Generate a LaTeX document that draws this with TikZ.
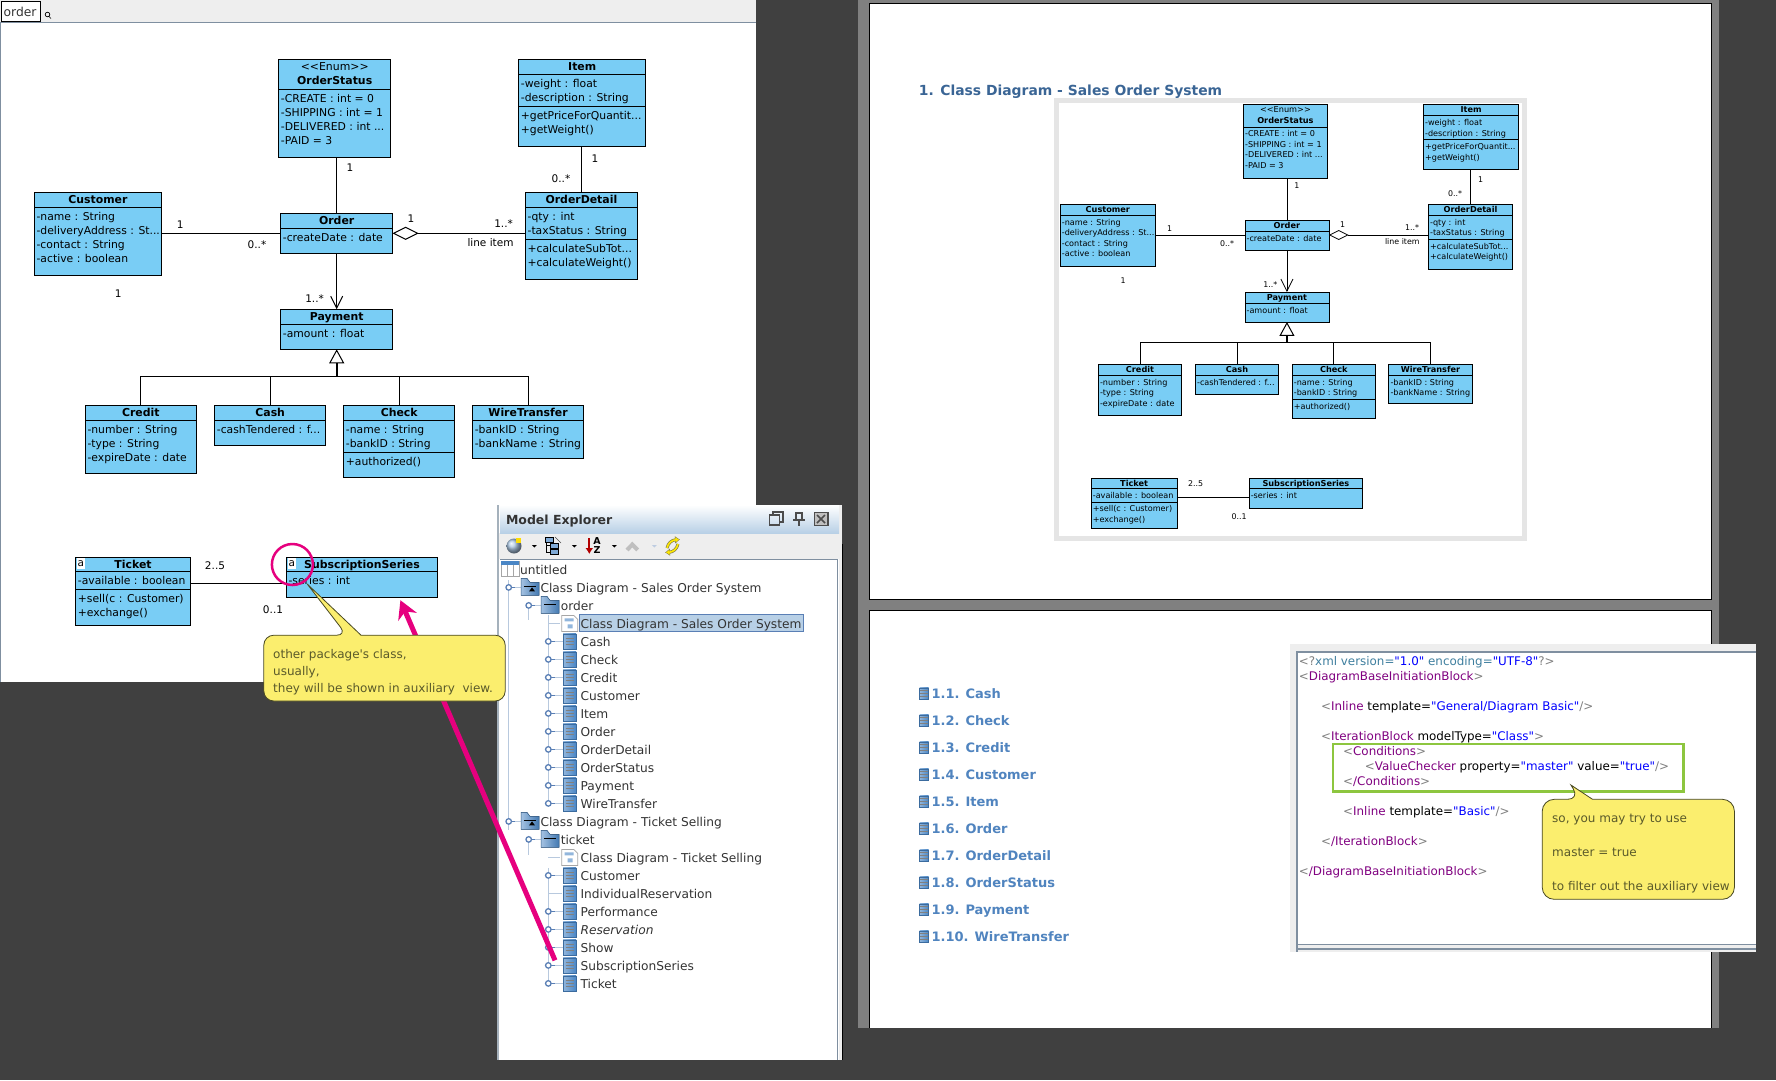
\documentclass[tikz,border=0pt]{standalone}
\usepackage{fontspec}
\setmainfont{DejaVu Sans}
\newfontfamily\plainfont{DejaVu Sans}
\usetikzlibrary{shapes,positioning,arrows.meta,calc}
\definecolor{backdark}{HTML}{404040}
\definecolor{pagegray}{HTML}{808080}
\definecolor{barlight}{HTML}{EEEEEE}
\definecolor{classblue}{HTML}{79CDF5}
\definecolor{noteyellow}{HTML}{FBEE6E}
\definecolor{notetext}{HTML}{5A5A2A}
\definecolor{pointerpink}{HTML}{E6007E}
\definecolor{framegray}{HTML}{E5E5E5}
\definecolor{edgeblue}{HTML}{7F8FA0}
\definecolor{treetint}{HTML}{B8C9DE}
\definecolor{handleblue}{HTML}{5A7FB5}
\definecolor{iconblue}{HTML}{4A86C5}
\definecolor{headblue}{HTML}{B8D0E6}
\definecolor{titleblue}{HTML}{3A6595}
\definecolor{listblue}{HTML}{5084BF}
\definecolor{xmlpurple}{HTML}{800080}
\definecolor{xmlteal}{HTML}{3F7F9F}
\definecolor{xmlgreen}{HTML}{8DC63F}
\newcommand{\pxfont}[1]{\fontsize{#1}{14}\selectfont}
\newcommand{\xa}[1]{\textcolor{gray}{<}\textcolor{xmlpurple}{#1}}
\newcommand{\xe}{\textcolor{gray}{>}}
\newcommand{\xv}[1]{\textcolor{blue}{"#1"}}
% class box with its title
\newcommand{\umlclass}[6]{
	\node [classbox, minimum width=#4pt, minimum height=#5pt] (#1) at (#2,#3) {};
	\node [classtitle] (#1 title) at ($(#1.north)+(0,1.2)$) {\strut #6};
}
% compartment: rule and rows
\newcommand{\umlpart}[3]{
	\draw [classrule] ($(#1.north west)+(0,#2)$) -- ($(#1.north east)+(0,#2)$);
	\node [classrow] (#1 row#2) at ($(#1.north west)+(2,#2+3.2)$) {\strut #3};
}
% the sales order class diagram, main view and document view
\newcommand{\salesdiagram}[1]{
	% Place nodes
	\umlclass{#1status}{278.7}{59.3}{112}{98}{{\mdseries <\kern0pt<Enum>\kern0pt>}\\OrderStatus}
	\umlpart{#1status}{30}{-CREATE : int = 0\\-SHIPPING : int = 1\\-DELIVERED : int ...\\-PAID = 3}
	\umlclass{#1item}{518.7}{59.3}{127}{87}{Item}
	\umlpart{#1item}{15}{-weight : float\\-description : String}
	\umlpart{#1item}{47}{+getPriceForQuantit...\\+getWeight()}
	\umlclass{#1customer}{34.4}{192.3}{127}{83}{Customer}
	\umlpart{#1customer}{15}{-name : String\\-deliveryAddress : St...\\-contact : String\\-active : boolean}
	\umlclass{#1order}{280.7}{213.3}{112}{40}{Order}
	\umlpart{#1order}{15}{-createDate : date}
	\umlclass{#1detail}{525.4}{192.3}{112}{87}{OrderDetail}
	\umlpart{#1detail}{15}{-qty : int\\-taxStatus : String}
	\umlpart{#1detail}{47}{+calculateSubTot...\\+calculateWeight()}
	\umlclass{#1payment}{280.7}{309.3}{112}{40}{Payment}
	\umlpart{#1payment}{15}{-amount : float}
	\umlclass{#1credit}{85.3}{405.3}{111}{68}{Credit}
	\umlpart{#1credit}{15}{-number : String\\-type : String\\-expireDate : date}
	\umlclass{#1cash}{214.7}{405.3}{111}{40}{Cash}
	\umlpart{#1cash}{15}{-cashTendered : f...}
	\umlclass{#1check}{343.7}{405.3}{111}{72}{Check}
	\umlpart{#1check}{15}{-name : String\\-bankID : String}
	\umlpart{#1check}{47}{+authorized()}
	\umlclass{#1wire}{472.6}{405.3}{111}{53}{WireTransfer}
	\umlpart{#1wire}{15}{-bankID : String\\-bankName : String}
	\umlclass{#1ticket}{75.7}{557.3}{114.6}{67.7}{Ticket}
	\umlpart{#1ticket}{14}{-available : boolean}
	\umlpart{#1ticket}{32}{+sell(c : Customer)\\+exchange()}
	\umlclass{#1series}{286.3}{557.3}{151.4}{40}{SubscriptionSeries}
	\umlpart{#1series}{14}{-series : int}
	\node [aggregate] (#1agg) at (405.7,233.3) {};
	\coordinate (#1bus) at (336.7,376.3);
	\coordinate (#1link) at (238,583.3);

	% Draw edges
	\draw [classrule] (#1order.north) -- (#1order.north |- #1status.south);
	\draw [classrule] (#1detail.north) -- (#1detail.north |- #1item.south);
	\draw [classrule] (#1order.west) -- (#1order.west -| #1customer.east);
	\draw [classrule] (#1agg.east) -- (#1agg.east -| #1detail.west);
	\draw [classrule, -{Straight Barb[length=12pt,width=12pt]}] (#1order.south) -- (#1order.south |- #1payment.north);
	\draw [classrule, line width=2pt, -{Triangle[open,fill=white,length=14pt,width=15pt,line width=1pt]}] (#1bus) -- (#1payment.south);
	\draw [classrule] (#1credit.north) |- (#1bus);
	\draw [classrule] (#1cash.north) |- (#1bus);
	\draw [classrule] (#1check.north) |- (#1bus);
	\draw [classrule] (#1wire.north) |- (#1bus);
	\draw [classrule] (#1link -| #1ticket.east) -- (#1link -| #1series.west);

	% Multiplicities
	\node [umllabel] (#1m1) at (180.3,225) {1};
	\node [umllabel] (#1m2) at (257,245) {0..*};
	\node [umllabel] (#1m3) at (350,168) {1};
	\node [umllabel] (#1m4) at (595,159) {1};
	\node [umllabel] (#1m5) at (561,178.3) {0..*};
	\node [umllabel] (#1m6) at (411,219) {1};
	\node [umllabel] (#1m7) at (503.6,223.3) {1..*};
	\node [umllabel] (#1m8) at (490.5,242.3) {line item};
	\node [umllabel] (#1m9) at (118.3,294) {1};
	\node [umllabel] (#1m10) at (314.6,299) {1..*};
	\node [umllabel] (#1m11) at (215,565.2) {2..5};
	\node [umllabel] (#1m12) at (273,609.3) {0..1};
}
% folder icon of the tree, glyph drawn by the caller
\newcommand{\foldericon}[2]{
	\fill [left color=iconblue!50, right color=iconblue!90!black, draw=iconblue!70!black, line width=.5pt]
		(#1,#2-4) -- (#1,#2-9) -- (#1+6,#2-9) -- (#1+9,#2-5) -- (#1+18,#2-5) -- (#1+18,#2+8) -- (#1,#2+8) -- cycle;
	\draw [line width=1pt] (#1+3,#2-1) -- (#1+15,#2-1);
}
% diagram icon of the tree
\newcommand{\diagramicon}[2]{
	\draw [fill=white, draw=gray!70, line width=.7pt] (#1-8,#2-8) -- (#1+4,#2-8) -- (#1+8,#2-4) -- (#1+8,#2+8) -- (#1-8,#2+8) -- cycle;
	\fill [iconblue!60] (#1-5,#2-5) rectangle (#1+4,#2-2) (#1-2,#2+1) rectangle (#1+3,#2+5);
}
\begin{document}
\begin{tikzpicture}[
		x=1pt,
		y=-1pt,
		classrule/.style={
			line width=1pt
			},
		classbox/.style={
			rectangle,
			draw,
			classrule,
			fill=classblue,
			anchor=north west,
			inner sep=0pt,
			outer sep=0pt
			},
		classtitle/.style={
			anchor=north,
			align=center,
			inner sep=0pt,
			font=\pxfont{10.9}\bfseries
			},
		classrow/.style={
			anchor=north west,
			align=left,
			inner sep=0pt,
			font=\pxfont{10.8}
			},
		umllabel/.style={
			inner sep=0pt,
			font=\pxfont{10.5}
			},
		aggregate/.style={
			diamond,
			draw,
			classrule,
			fill=white,
			aspect=2,
			inner sep=0pt,
			outer sep=0pt,
			minimum width=24pt,
			minimum height=12pt
			},
		notebox/.style={
			draw=notetext!80!black,
			fill=noteyellow,
			line width=.8pt
			},
		notetextline/.style={
			anchor=base west,
			inner sep=0pt,
			text=notetext,
			font=\plainfont\pxfont{12}
			},
		markbox/.style={
			fill=white,
			inner sep=0pt,
			minimum width=8.5pt,
			minimum height=11pt,
			font=\pxfont{10.5}
			},
		treetext/.style={
			anchor=base west,
			inner sep=0pt,
			text=black!80,
			font=\pxfont{12.2}
			},
		treeline/.style={
			draw=treetint,
			line width=.9pt
			},
		treestub/.style={
			draw=handleblue,
			line width=1.1pt
			},
		treehandle/.style={
			circle,
			draw=handleblue,
			fill=white,
			line width=1.3pt,
			inner sep=0pt,
			minimum size=5.5pt
			},
		classicon/.style={
			rectangle,
			draw=iconblue!80!black,
			line width=.5pt,
			left color=iconblue!60,
			right color=iconblue,
			inner sep=0pt,
			minimum width=13pt,
			minimum height=15pt,
			path picture={
				\foreach \k in {-3,0,3}
					\draw [black!50, line width=1.1pt] ($(path picture bounding box.center)+(-4,\k)$) -- ($(path picture bounding box.center)+(4,\k)$);
				}
			},
		listentry/.style={
			anchor=base west,
			inner sep=0pt,
			text=listblue,
			font=\pxfont{13}\bfseries
			},
		xmlline/.style={
			anchor=base west,
			inner sep=0pt,
			font=\plainfont\pxfont{11.9}
			}]
	\useasboundingbox (0,0) rectangle (1776,1080);
	\fill [backdark] (0,0) rectangle (1776,1080);

	% Editor with the class diagram
	\fill [white] (0,22) rectangle (756,682);
	\fill [barlight] (0,0) rectangle (756,22);
	\draw [edgeblue, line width=1pt] (0,22.5) -- (756,22.5);
	\draw [edgeblue, line width=1pt] (.5,22) -- (.5,682);
	\node [draw, fill=white, anchor=north west, inner sep=0pt, minimum width=39pt, minimum height=20pt, line width=1pt] (tabbox) at (.5,1) {};
	\node [anchor=base west, inner sep=0pt, text=black!80, font=\pxfont{12.3}] (tabtext) at (3.5,16) {order};
	\draw [line width=.7pt] (47.5,14.5) circle (2.3pt) (49,16.5) -- (51,18.5);
	\salesdiagram{m}
	\node [markbox] (ticketmark) at (80.8,563.4) {a};
	\node [markbox] (seriesmark) at (291.8,563.4) {a};
	\draw [pointerpink, line width=2.5pt] (292.4,564.5) circle (20.5pt);

	% Documents on the right
	\fill [pagegray] (857.5,0) rectangle (1718.6,1028);
	\draw [fill=white, line width=1pt] (869.3,3.5) rectangle (1711.5,599);
	\fill [white] (869.3,610.3) rectangle (1711.5,1028);
	\draw [line width=1pt] (869.3,1028) -- (869.3,610.3) -- (1711.5,610.3) -- (1711.5,1028);
	\node [anchor=base west, inner sep=0pt, text=titleblue, font=\pxfont{13.9}\bfseries] (doctitle) at (918.7,95) {1. Class Diagram - Sales Order System};
	\fill [framegray] (1054.2,98) rectangle (1527,541);
	\fill [white] (1059,103) rectangle (1522,536);
	\begin{scope}[shift={(1034.4,60)}, scale=.75, every node/.append style={transform shape}, classrule/.style={line width=.8pt}]
		\salesdiagram{s}
	\end{scope}

	% Model explorer
	\fill [white] (497,505) rectangle (842,1060);
	\fill [edgeblue!70] (497,505) rectangle (499,1060);
	\fill [barlight] (499,533) rectangle (842,559);
	\fill [barlight] (839,505) rectangle (842,1060);
	\shade [top color=white, bottom color=headblue] (500,505) rectangle (839,533);
	\draw [edgeblue, line width=1pt] (500,559.5) -- (837.7,559.5) -- (837.7,1060);
	\draw [line width=1pt] (842.3,544) -- (842.3,1060);
	\node [anchor=base west, inner sep=0pt, text=black!80, font=\pxfont{12.5}\bfseries] (exptitle) at (505.8,524) {Model Explorer};
	% title bar buttons
	\draw [black!70, line width=1.2pt] (769.3,515) rectangle (779.3,525) (773,515) -- (773,512) -- (783,512) -- (783,522) -- (779.3,522);
	\draw [black!70, line width=1.2pt] (796,513) rectangle (802,520) (793,520) -- (805,520) (799,520) -- (799,526);
	\draw [black!70, fill=gray!50, line width=1.2pt] (814.3,512.3) rectangle (828,525.7);
	\draw [black!70, line width=1.5pt] (817,515) -- (825,523) (825,515) -- (817,523);
	% tool bar
	\shade [ball color=iconblue!45] (514,546) circle (7.5pt);
	\fill [yellow!80!orange] (515.5,537.5) rectangle (521,543);
	\draw [line width=.8pt] (546.7,537) -- (546.7,552) -- (550,552) (546.7,545) -- (550,545);
	\draw [fill=iconblue!70, line width=.5pt] (545,537) rectangle (553,542) (550,543) rectangle (558,548) (550,549) rectangle (558,554);
	\draw [black!70, line width=.6pt] (555,537) -- (561,543);
	\draw [red!70!black, line width=2pt, -{Latex[length=6pt,width=8pt]}] (589.3,538) -- (589.3,554);
	\node [inner sep=0pt, font=\pxfont{9.5}\bfseries] (sortup) at (597,541.5) {A};
	\node [inner sep=0pt, font=\pxfont{9.5}\bfseries] (sortdown) at (597,550.5) {Z};
	\draw [gray!50, line width=4pt] (627,550) -- (632.3,544.5) -- (637.7,550);
	\draw [yellow!45!black, line width=3pt, -{Latex[length=5pt,width=8pt]}] (667,548) .. controls (668,543) and (672,540) .. (680,539.5);
	\draw [yellow!45!black, line width=3pt, -{Latex[length=5pt,width=8pt]}] (678,544) .. controls (677,549) and (673,552) .. (665,552.5);
	\draw [yellow!90!orange, line width=1.6pt, -{Latex[length=3.5pt,width=5.5pt]}] (667,548) .. controls (668,543) and (672,540) .. (679,539.5);
	\draw [yellow!90!orange, line width=1.6pt, -{Latex[length=3.5pt,width=5.5pt]}] (678,544) .. controls (677,549) and (673,552) .. (666,552.5);
	\foreach \dropx in {534.3,574.3,614.3}
		\fill (\dropx-2.5,545) -- (\dropx+2.5,545) -- (\dropx,547.5) -- cycle;
	\fill [handleblue!40] (651.8,545) -- (656.8,545) -- (654.3,547.5) -- cycle;
	% tree
	\fill [headblue, draw=handleblue, line width=.7pt] (579.3,614.5) rectangle (803.6,631.5);
	\draw [treeline] (508.7,580) -- (508.7,830) (528.7,605) -- (528.7,620) (528.7,840) -- (528.7,855);
	\draw [treeline] (548.3,615) -- (548.3,803) (548.3,868) -- (548.3,983.4);
	\draw [treeline] (548.3,623.4) -- (560,623.4) (548.3,857.4) -- (560,857.4) (548.3,893.4) -- (562,893.4);
	\draw [fill=white, draw=gray!70, line width=.6pt] (501.4,561) rectangle (519,576);
	\fill [iconblue] (501.4,561) rectangle (519,565);
	\draw [gray!70, line width=.6pt] (507,565) -- (507,576) (513,565) -- (513,576);
	\node [treetext] (tree0) at (520,574) {untitled};
	\foreach \rowno/\rowtext in {1/Class Diagram - Sales Order System,14/Class Diagram - Ticket Selling} {
		\pgfmathsetmacro{\rowy}{569.4+18*\rowno}
		\draw [treestub] (508.7,\rowy) -- (515,\rowy);
		\draw [treeline] (515,\rowy) -- (521,\rowy);
		\node [treehandle] (handle\rowno) at (508.7,\rowy) {};
		\foldericon{521}{\rowy}
		\fill (532,\rowy) -- (535,\rowy+4) -- (529,\rowy+4) -- cycle;
		\node [treetext] (tree\rowno) at (540.3,\rowy+5) {\rowtext};
	}
	\foreach \rowno/\rowtext in {2/order,15/ticket} {
		\pgfmathsetmacro{\rowy}{569.4+18*\rowno}
		\draw [treestub] (528.7,\rowy) -- (535,\rowy);
		\draw [treeline] (535,\rowy) -- (541,\rowy);
		\node [treehandle] (handle\rowno) at (528.7,\rowy) {};
		\foldericon{541}{\rowy}
		\node [treetext] (tree\rowno) at (560.6,\rowy+5) {\rowtext};
	}
	\foreach \rowno/\rowtext in {3/Class Diagram - Sales Order System,16/Class Diagram - Ticket Selling} {
		\pgfmathsetmacro{\rowy}{569.4+18*\rowno}
		\diagramicon{569.7}{\rowy}
		\node [treetext] (tree\rowno) at (580.4,\rowy+5) {\rowtext};
	}
	\foreach \rowno/\rowtext in {4/Cash,5/Check,6/Credit,7/Customer,8/Item,9/Order,10/OrderDetail,11/OrderStatus,12/Payment,13/WireTransfer,17/Customer,19/Performance,20/{\itshape Reservation},21/Show,22/SubscriptionSeries,23/Ticket} {
		\pgfmathsetmacro{\rowy}{569.4+18*\rowno}
		\node [classicon] (icon\rowno) at (569.5,\rowy) {};
		\draw [treestub] (548.3,\rowy) -- (555,\rowy);
		\draw [treeline] (555,\rowy) -- (icon\rowno.west);
		\node [treehandle] (handle\rowno) at (548.3,\rowy) {};
		\node [treetext] (tree\rowno) at (580.4,\rowy+5) {\rowtext};
	}
	\node [classicon] (icon18) at (569.5,893.4) {};
	\node [treetext] (tree18) at (580.4,898.4) {IndividualReservation};

	% Pointer and first note
	\coordinate (pointertip) at (400.4,600.2);
	\coordinate (pointerend) at (555,960.3);
	\draw [pointerpink, line width=5pt, -{Stealth[length=18pt,width=20pt]}] (pointerend) -- (pointertip);
	\draw [notebox, rounded corners=10pt] (263.8,668) |- (346.7,635.2) [sharp corners] -- (307.2,584) -- (361,635.2) -- (375,635.2) [rounded corners=10pt] -| (505.2,668) |- (263.8,701) -- cycle;
	\node [notetextline] (notea1) at (273,658.4) {other package's class,};
	\node [notetextline] (notea2) at (273,675.3) {usually,};
	\node [notetextline] (notea3) at (273,692.3) {they will be shown in auxiliary\ \ view.};

	% Template source
	\fill [barlight] (1290,644) rectangle (1756,952);
	\fill [white] (1296.3,651) rectangle (1756,944.3);
	\draw [edgeblue, line width=2pt] (1756,652) -- (1297,652) -- (1297,952);
	\draw [edgeblue, line width=1pt] (1297,944.3) -- (1756,944.3);
	\draw [edgeblue, line width=2pt] (1297,949) -- (1756,949);
	\node [xmlline] (xml1) at (1298.7,665) {\textcolor{gray}{<?}\textcolor{xmlteal}{xml version=}\xv{1.0} \textcolor{xmlteal}{encoding=}\xv{UTF-8}\textcolor{gray}{?>}};
	\node [xmlline] (xml2) at (1298.7,680) {\xa{DiagramBaseInitiationBlock}\xe};
	\node [xmlline] (xml3) at (1320.9,710) {\xa{Inline} template=\xv{General/Diagram Basic}\textcolor{gray}{/>}};
	\node [xmlline] (xml4) at (1320.9,740) {\xa{IterationBlock} modelType=\xv{Class}\xe};
	\node [xmlline] (xml5) at (1343,755) {\xa{Conditions}\xe};
	\node [xmlline] (xml6) at (1364.7,770) {\xa{ValueChecker} property=\xv{master} value=\xv{true}\textcolor{gray}{/>}};
	\node [xmlline] (xml7) at (1343,785) {\xa{/Conditions}\xe};
	\node [xmlline] (xml8) at (1343,815) {\xa{Inline} template=\xv{Basic}\textcolor{gray}{/>}};
	\node [xmlline] (xml9) at (1320.9,845) {\xa{/IterationBlock}\xe};
	\node [xmlline] (xml10) at (1298.7,875) {\xa{/DiagramBaseInitiationBlock}\xe};
	\draw [xmlgreen, line width=2.5pt] (1333,744) rectangle (1683.6,791.3);
	\draw [notebox, rounded corners=12pt] (1542.2,850) |- (1579.6,799.3) [sharp corners] -- (1570.9,785) -- (1592.5,799.3) -- (1605,799.3) [rounded corners=12pt] -| (1734.4,850) |- (1542.2,899.3) -- cycle;
	\node [notetextline] (noteb1) at (1552,822.5) {so, you may try to use};
	\node [notetextline] (noteb2) at (1552,856.5) {master = true};
	\node [notetextline] (noteb3) at (1552,890.5) {to filter out the auxiliary view};

	% Class list of the document
	\foreach \itemno/\itemtext in {0/1.1. Cash,1/1.2. Check,2/1.3. Credit,3/1.4. Customer,4/1.5. Item,5/1.6. Order,6/1.7. OrderDetail,7/1.8. OrderStatus,8/1.9. Payment,9/1.10. WireTransfer} {
		\pgfmathsetmacro{\itemy}{693.3+27*\itemno}
		\node [classicon, minimum width=9pt, minimum height=11pt] (listicon\itemno) at (924,\itemy) {};
		\node [listentry] (list\itemno) at (931.3,\itemy+5) {\itemtext};
	}
\end{tikzpicture}
\end{document}
